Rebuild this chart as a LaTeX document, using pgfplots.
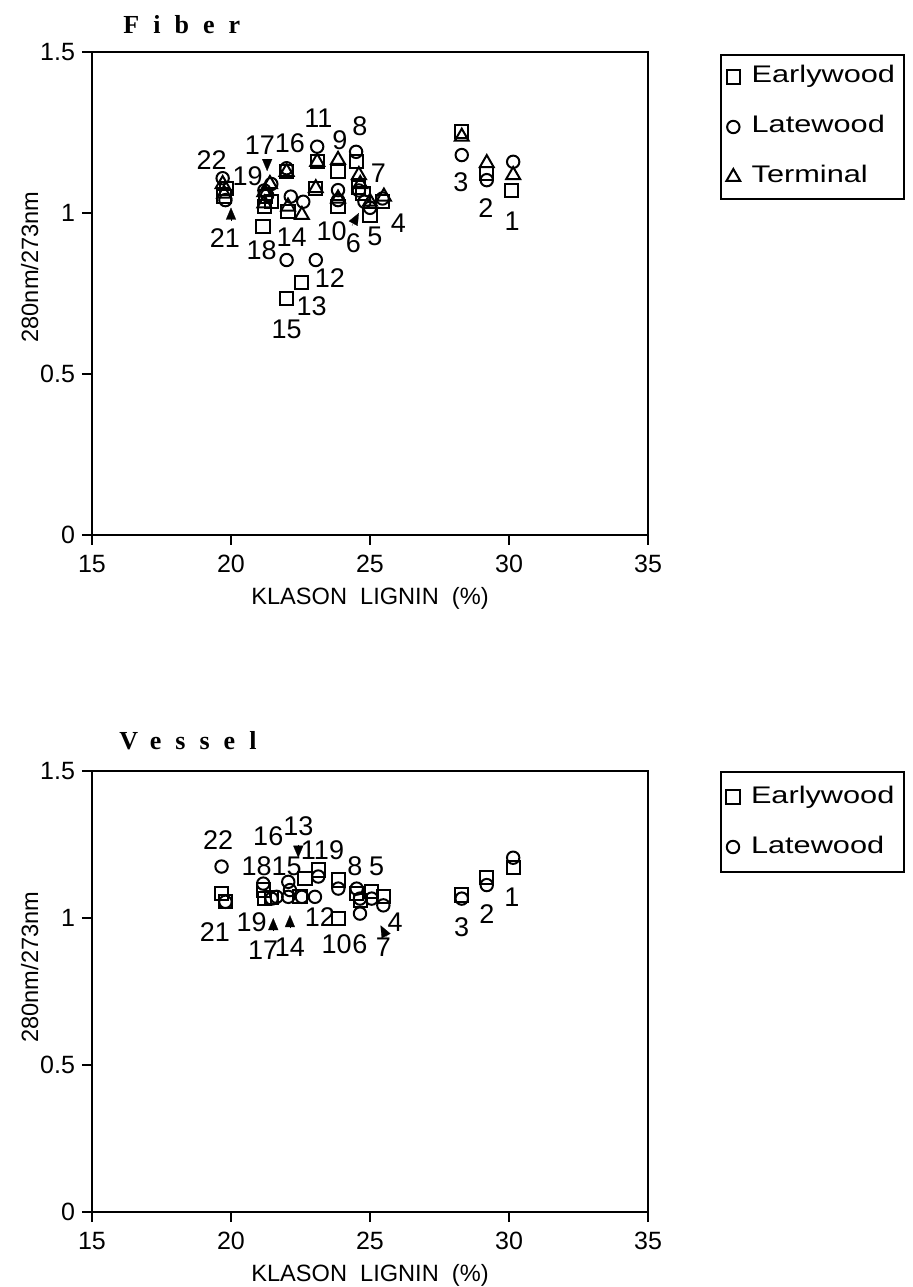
\documentclass[border=0pt]{standalone}
\usepackage{fontspec}
\setmainfont{Liberation Sans}
\usepackage{graphicx}
\usepackage{pgfplots}
\pgfplotsset{compat=1.18}
\usetikzlibrary{arrows.meta}
\newfontfamily\titlefont[LetterSpace=54]{Liberation Serif}
\newcommand\legtxt[1]{\scalebox{1.28}[1]{#1}}

\tikzset{
 lbl/.style={font=\fontsize{13.5}{14}\selectfont, inner sep=0pt},
 arr/.style={-{Triangle[length=6pt,width=5pt]}, line width=0.1pt, black},
}
\pgfplotsset{
 base/.style={scale only axis, width=278pt, xmin=15, xmax=35, ymin=0, ymax=1.5,
  xtick={15,20,25,30,35}, ytick={0,0.5,1,1.5},
  tick align=outside, xtick pos=left, ytick pos=left, major tick length=5pt,
  axis line style={line width=1pt}, every tick/.style={black,line width=1pt},
  tick label style={font=\fontsize{12.5}{13}\selectfont},
  xticklabel style={yshift=-1.5pt},
  /pgf/number format/assume math mode=true,
  xlabel={KLASON\ \ LIGNIN\ \ (\%)}, ylabel={280nm/273nm},
  label style={font=\fontsize{11.8}{12}\selectfont},
  xlabel style={at={(axis description cs:0.5,0)},anchor=center,yshift=-31.5pt},
  ylabel style={at={(axis description cs:-0.112,0.555)},anchor=center},
  clip=false,
  legend cell align=left,
  legend image code/.code={\draw[##1] plot coordinates {(0pt,0pt)};},
  legend style={draw=black, line width=1pt, font=\fontsize{12}{13}\selectfont,
    at={(1,1)}, anchor=north west, xshift=36pt, inner xsep=2.7pt, row sep=10pt,
    nodes={inner xsep=2pt, inner ysep=1.5pt, text height=9pt, text depth=3pt},
    /tikz/every odd column/.append style={column sep=3.7pt}},
 },
 ew/.style={only marks, mark=square, mark size=3.3pt, line width=1pt, black},
 lw/.style={only marks, mark=o, mark size=3.1pt, line width=1pt, black},
 tm/.style={only marks, mark=triangle, mark size=4pt, line width=1pt, black},
}

\begin{document}
\begin{tikzpicture}
% ---------------- Fiber ----------------
\node[anchor=west, inner xsep=0pt] at (61.5pt,631pt) {\titlefont\fontsize{13}{14}\selectfont\bfseries Fiber};
\begin{axis}[base, at={(46pt,376pt)}, anchor=south west, height=241.5pt,
  legend style={yshift=-1pt, inner ysep=3.5pt}]
\addplot[ew] coordinates {
(30.1,1.071) (29.2,1.123) (28.3,1.252) (25.45,1.035) (25.0,0.994) (24.75,1.06)
(24.6,1.08) (24.5,1.159) (23.85,1.13) (23.85,1.02) (23.1,1.159) (23.05,1.077)
(22.55,0.784) (22.05,1.004) (22.0,0.735) (22.0,1.128) (21.25,1.05) (21.15,0.957)
(21.2,1.02) (21.45,1.035) (19.75,1.051) (19.85,1.077)};
\addlegendentry{\legtxt{Earlywood}}
\addplot[lw] coordinates {
(30.15,1.159) (29.2,1.102) (28.3,1.18) (25.45,1.045) (25.0,1.016) (24.8,1.035)
(24.6,1.07) (24.5,1.19) (23.85,1.071) (23.85,1.04) (23.1,1.206) (23.05,0.854)
(22.6,1.035) (22.15,1.051) (22.0,0.854) (22.0,1.139) (21.45,1.09) (21.2,1.07)
(21.3,1.055) (19.8,1.04) (19.7,1.108)};
\addlegendentry{\legtxt{Latewood}}
\addplot[tm] coordinates {
(30.15,1.118) (29.2,1.155) (28.3,1.237) (25.5,1.051) (25.0,1.035) (24.65,1.09)
(24.6,1.118) (23.85,1.165) (23.85,1.045) (23.1,1.159) (23.05,1.077) (22.55,0.994)
(22.05,1.02) (22.0,1.128) (21.4,1.09) (21.2,1.065) (21.2,1.03) (19.75,1.06)
(19.7,1.09)};
\addlegendentry{\legtxt{Terminal}}
\node[lbl] at (axis cs:19.3,1.165) {22};
\node[lbl] at (axis cs:20.6,1.113) {19};
\node[lbl] at (axis cs:21.04,1.211) {17};
\node[lbl] at (axis cs:22.12,1.216) {16};
\node[lbl] at (axis cs:23.14,1.294) {11};
\node[lbl] at (axis cs:23.92,1.227) {9};
\node[lbl] at (axis cs:24.64,1.268) {8};
\node[lbl] at (axis cs:25.3,1.123) {7};
\node[lbl] at (axis cs:26.02,0.968) {4};
\node[lbl] at (axis cs:25.18,0.926) {5};
\node[lbl] at (axis cs:24.4,0.906) {6};
\node[lbl] at (axis cs:23.62,0.942) {10};
\node[lbl] at (axis cs:22.18,0.926) {14};
\node[lbl] at (axis cs:19.78,0.921) {21};
\node[lbl] at (axis cs:21.1,0.885) {18};
\node[lbl] at (axis cs:23.56,0.797) {12};
\node[lbl] at (axis cs:22.9,0.709) {13};
\node[lbl] at (axis cs:22.0,0.64) {15};
\node[lbl] at (axis cs:28.27,1.097) {3};
\node[lbl] at (axis cs:29.17,1.015) {2};
\node[lbl] at (axis cs:30.11,0.973) {1};
\draw[arr] (axis cs:21.3,1.168) -- (axis cs:21.3,1.13);
\draw[arr] (axis cs:20.0,0.975) -- (axis cs:20.0,1.017);
\draw[arr] (axis cs:24.35,0.96) -- (axis cs:24.6,1.0);
\end{axis}
% ---------------- Vessel ----------------
\node[anchor=west, inner xsep=0pt] at (59.5pt,273pt) {\titlefont\fontsize{13}{14}\selectfont\bfseries Vessel};
\begin{axis}[base, at={(46pt,37.5pt)}, anchor=south west, height=220.5pt,
  legend style={yshift=0pt, inner ysep=5pt}]
\addplot[ew] coordinates {
(30.15,1.172) (29.2,1.137) (28.3,1.078) (25.48,1.072) (25.06,1.089) (24.65,1.06)
(24.52,1.083) (23.86,1.129) (23.86,0.998) (23.14,1.163) (22.66,1.135) (22.48,1.072)
(21.16,1.095) (21.2,1.066) (21.45,1.07) (19.65,1.083) (19.8,1.055)};
\addlegendentry{\legtxt{Earlywood}}
\addplot[lw] coordinates {
(30.15,1.205) (29.2,1.112) (28.3,1.066) (25.48,1.043) (25.06,1.066) (24.64,1.015)
(24.64,1.066) (24.52,1.1) (23.86,1.1) (23.14,1.141) (23.02,1.072) (22.55,1.072)
(22.06,1.072) (22.06,1.123) (22.12,1.095) (21.16,1.117) (21.46,1.066) (21.64,1.072)
(19.8,1.055) (19.66,1.175)};
\addlegendentry{\legtxt{Latewood}}
\node[lbl] at (axis cs:19.54,1.266) {22};
\node[lbl] at (axis cs:21.34,1.277) {16};
\node[lbl] at (axis cs:22.42,1.312) {13};
\node[lbl] at (axis cs:23.02,1.232) {11};
\node[lbl] at (axis cs:23.8,1.232) {9};
\node[lbl] at (axis cs:20.92,1.175) {18};
\node[lbl] at (axis cs:22.0,1.175) {15};
\node[lbl] at (axis cs:24.46,1.175) {8};
\node[lbl] at (axis cs:25.24,1.175) {5};
\node[lbl] at (axis cs:20.74,0.986) {19};
\node[lbl] at (axis cs:23.2,1.003) {12};
\node[lbl] at (axis cs:25.9,0.986) {4};
\node[lbl] at (axis cs:19.42,0.952) {21};
\node[lbl] at (axis cs:21.16,0.89) {17};
\node[lbl] at (axis cs:22.12,0.901) {14};
\node[lbl] at (axis cs:23.8,0.912) {10};
\node[lbl] at (axis cs:24.64,0.912) {6};
\node[lbl] at (axis cs:25.48,0.901) {7};
\node[lbl] at (axis cs:30.1,1.072) {1};
\node[lbl] at (axis cs:29.2,1.015) {2};
\node[lbl] at (axis cs:28.3,0.969) {3};
\draw[arr] (axis cs:22.42,1.25) -- (axis cs:22.42,1.205);
\draw[arr] (axis cs:21.52,0.955) -- (axis cs:21.52,1.0);
\draw[arr] (axis cs:22.12,0.965) -- (axis cs:22.12,1.01);
\draw[arr] (axis cs:25.6,0.935) -- (axis cs:25.38,0.975);
\end{axis}
\pgfresetboundingbox
\useasboundingbox (0,0) rectangle (456pt,643.5pt);
\end{tikzpicture}
\end{document}
